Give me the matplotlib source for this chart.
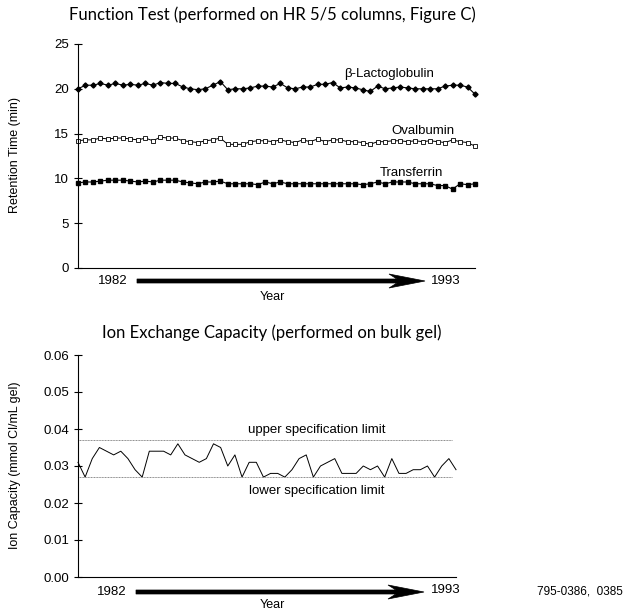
import numpy as np
import matplotlib.pyplot as plt
from matplotlib.patches import Polygon

# retention times (min), one point per test run, 1982 -> 1993
lacto = [20.0, 20.4, 20.4, 20.6, 20.4, 20.6, 20.4, 20.5, 20.4, 20.6, 20.4, 20.7, 20.6, 20.6,
         20.2, 20.0, 19.9, 20.0, 20.4, 20.8, 19.9, 20.0, 20.0, 20.1, 20.3, 20.3, 20.2, 20.6,
         20.1, 20.0, 20.2, 20.2, 20.5, 20.5, 20.7, 20.1, 20.2, 20.1, 19.9, 19.7, 20.3, 20.0,
         20.1, 20.2, 20.1, 20.0, 20.0, 20.0, 20.0, 20.3, 20.4, 20.4, 20.2, 19.4]
ovalb = [14.2, 14.3, 14.3, 14.5, 14.4, 14.5, 14.5, 14.4, 14.3, 14.5, 14.2, 14.6, 14.5, 14.5,
         14.2, 14.1, 14.0, 14.2, 14.3, 14.5, 13.8, 13.8, 13.8, 14.1, 14.2, 14.2, 14.1, 14.3,
         14.1, 14.0, 14.3, 14.1, 14.4, 14.1, 14.3, 14.3, 14.1, 14.1, 14.0, 13.8, 14.1, 14.1,
         14.2, 14.2, 14.1, 14.2, 14.1, 14.2, 14.1, 14.0, 14.3, 14.1, 14.0, 13.6]
transf = [9.5, 9.6, 9.6, 9.7, 9.8, 9.8, 9.8, 9.7, 9.6, 9.7, 9.6, 9.8, 9.8, 9.8,
          9.6, 9.5, 9.4, 9.6, 9.6, 9.7, 9.4, 9.4, 9.4, 9.4, 9.3, 9.6, 9.4, 9.6,
          9.4, 9.4, 9.4, 9.4, 9.4, 9.4, 9.4, 9.4, 9.4, 9.4, 9.3, 9.4, 9.6, 9.4,
          9.6, 9.6, 9.6, 9.4, 9.4, 9.4, 9.2, 9.2, 8.8, 9.4, 9.3, 9.4]

# ion exchange capacity (mmol Cl-/mL gel)
capacity = [0.031, 0.027, 0.032, 0.035, 0.034, 0.033, 0.034, 0.032, 0.029, 0.027, 0.034, 0.034,
            0.034, 0.033, 0.036, 0.033, 0.032, 0.031, 0.032, 0.036, 0.035, 0.030, 0.033, 0.027,
            0.031, 0.031, 0.027, 0.028, 0.028, 0.027, 0.029, 0.032, 0.033, 0.027, 0.030, 0.031,
            0.032, 0.028, 0.028, 0.028, 0.030, 0.029, 0.030, 0.027, 0.032, 0.028, 0.028, 0.029,
            0.029, 0.030, 0.027, 0.030, 0.032, 0.029]
upper_limit = 0.037
lower_limit = 0.027

W, H = 631, 610
fig = plt.figure(figsize=(W / 100, H / 100), dpi=100)

def fx(px):
    return px / W

def fy(py):
    return 1 - py / H

def ftext(px, py, s, **kw):
    kw.setdefault('fontsize', 9)
    kw.setdefault('family', 'Liberation Sans')
    kw.setdefault('ha', 'center')
    kw.setdefault('va', 'center')
    fig.text(fx(px), fy(py), s, **kw)

def year_arrow(x0, x1, y):
    hl, hw, sw = 36, 7, 2
    xb = x1 - hl
    pts = [(x0, y - sw), (xb + 8, y - sw), (xb, y - hw), (x1, y),
           (xb, y + hw), (xb + 8, y + sw), (x0, y + sw)]
    fig.patches.append(Polygon([(fx(a), fy(b)) for a, b in pts], closed=True,
                               transform=fig.transFigure, facecolor='black',
                               edgecolor='black', lw=0.5))

def style(ax):
    for s in ['top', 'right']:
        ax.spines[s].set_visible(False)
    for s in ['left', 'bottom']:
        ax.spines[s].set_linewidth(0.8)
    ax.set_xticks([])
    ax.tick_params(axis='y', direction='inout', length=6, width=0.8, labelsize=9.5)
    for t in ax.get_yticklabels():
        t.set_family('Liberation Sans')

x = np.arange(len(lacto))

# ---- top panel: function test ----
ax1 = fig.add_axes([fx(78), fy(268), fx(475) - fx(78), fy(44) - fy(268)])
ax1.plot(x, lacto, color='black', lw=0.8, marker='D', ms=2.6, clip_on=False)
ax1.plot(x, ovalb, color='black', lw=0.7, marker='s', ms=3.0, mfc='white', mew=0.6, clip_on=False)
ax1.plot(x, transf, color='black', lw=0.8, marker='s', ms=2.8, clip_on=False)
ax1.set_xlim(0, len(x) - 1)
ax1.set_ylim(0, 25)
ax1.set_yticks([0, 5, 10, 15, 20, 25])
style(ax1)
ax1.text(35.5, 21.6, 'β-Lactoglobulin', fontsize=9.5, family='Liberation Sans', va='center')
ax1.text(46, 15.3, 'Ovalbumin', fontsize=9.5, family='Liberation Sans', ha='center', va='center')
ax1.text(44.5, 10.6, 'Transferrin', fontsize=9.5, family='Liberation Sans', ha='center', va='center')

ftext(272, 15, 'Function Test (performed on HR 5/5 columns, Figure C)', fontsize=12, family='Lato')
ftext(15, 155, 'Retention Time (min)', rotation=90)
ftext(113, 281, '1982', fontsize=9.5)
ftext(446, 281, '1993', fontsize=9.5)
ftext(272, 297, 'Year')
year_arrow(137, 425, 281)

# ---- bottom panel: ion exchange capacity ----
ax2 = fig.add_axes([fx(78), fy(577), fx(456) - fx(78), fy(355) - fy(577)])
ax2.plot(x, capacity, color='black', lw=0.7, clip_on=False)
ax2.hlines([upper_limit, lower_limit], 0, len(x) - 1.5, colors='#888888', lw=0.7,
           linestyles=[(0, (1, 0.6))])
ax2.set_xlim(0, len(x) - 1)
ax2.set_ylim(0, 0.06)
ax2.set_yticks(np.arange(0, 0.061, 0.01))
ax2.set_yticklabels(['%.2f' % v for v in np.arange(0, 0.061, 0.01)])
style(ax2)
ax2.text(33.5, 0.0397, 'upper specification limit', fontsize=9.5, family='Liberation Sans',
         ha='center', va='center')
ax2.text(33.5, 0.0232, 'lower specification limit', fontsize=9.5, family='Liberation Sans',
         ha='center', va='center')

ftext(272, 333, 'Ion Exchange Capacity (performed on bulk gel)', fontsize=12, family='Lato')
ftext(15, 465, 'Ion Capacity (mmol Cl/mL gel)', rotation=90)
ftext(112, 592, '1982', fontsize=9.5)
ftext(446, 590, '1993', fontsize=9.5)
ftext(272, 604.5, 'Year')
ftext(580, 592, '795-0386,  0385', fontsize=8.5)
year_arrow(136, 424, 592)

fig.savefig('out.png', dpi=100)
